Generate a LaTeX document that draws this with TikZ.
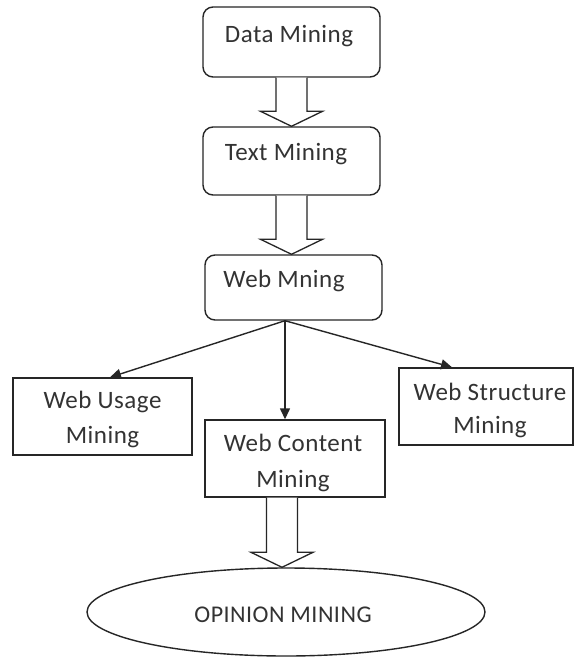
\documentclass[tikz,border=0pt]{standalone}
\usepackage{fontspec}
\setmainfont{Carlito}[LetterSpace=2]
\usetikzlibrary{calc,arrows.meta,shapes.geometric}
\tikzset{
  rbox/.style={draw=black!85, line width=1.4pt, rounded corners=10pt, inner sep=0pt, fill=white},
  sbox/.style={draw=black!85, line width=1.4pt, inner sep=0pt, fill=white},
  oval/.style={draw=black!85, line width=1.4pt, ellipse, inner sep=0pt},
  lbl/.style={inner sep=0pt, anchor=base, align=center, font=\fontsize{25}{35}\selectfont, text=black!80},
  conn/.style={line width=1.4pt, draw=black!85, -{Triangle[length=11pt,width=10pt]}},
  barrow/.style={line width=1.3pt, draw=black!85, fill=white, line join=miter},
}
\newcommand{\blockarr}[3]{%
  \draw[barrow] let \p1=([xshift=#3]#1.south), \p2=(#2.north) in
  (\x1-15.5pt,\y1) -- (\x1-15.5pt,\y2+15pt) -- (\x1-31pt,\y2+15pt) -- (\x1,\y2)
  -- (\x1+31pt,\y2+15pt) -- (\x1+15.5pt,\y2+15pt) -- (\x1+15.5pt,\y1);}
\begin{document}
\begin{tikzpicture}[x=1pt,y=-1pt]
\useasboundingbox[fill=white] (0,0) rectangle (575,658);
% boxes
\node[rbox, minimum width=177pt, minimum height=70pt] (dm) at (291.5,42) {};
\node[rbox, minimum width=177pt, minimum height=68pt] (tm) at (291.5,161) {};
\node[rbox, minimum width=177pt, minimum height=65pt] (wm) at (293.5,287.5) {};
\node[sbox, minimum width=179pt, minimum height=77pt] (wu) at (102.5,416.5) {};
\node[sbox, minimum width=180pt, minimum height=77pt] (wc) at (295,458.5) {};
\node[sbox, minimum width=174pt, minimum height=77pt] (ws) at (486,406.5) {};
\node[oval, minimum width=398pt, minimum height=88pt] (op) at (286,612) {};
% texts
\node[lbl] (dmt) at (289,43) {Data Mining};
\node[lbl] (tmt) at (286,160) {Text Mining};
\node[lbl] (wmt) at (284,287) {Web Mning};
\node[lbl] (wut) at (102.5,443) {Web Usage\\Mining};
\node[lbl, font=\fontsize{25}{36}\selectfont] (wct) at (293,487) {Web Content\\Mining};
\node[lbl, font=\fontsize{25}{33}\selectfont] (wst) at (490,433) {Web Structure\\Mining};
\node[lbl, font=\fontsize{24}{30}\selectfont] (opt) at (283,622) {OPINION MINING};
% block arrows
\blockarr{dm}{tm}{0pt}
\blockarr{tm}{wm}{0pt}
\blockarr{wc}{op}{-13pt}
% connectors
\coordinate (wmb) at ([xshift=-8.5pt]wm.south);
\draw[conn] (wmb) -- ([xshift=7.5pt]wu.north);
\draw[conn] (wmb) -- ([xshift=-10pt]wc.north);
\draw[conn] (wmb) -- ([xshift=-34pt]ws.north);
\end{tikzpicture}
\end{document}
